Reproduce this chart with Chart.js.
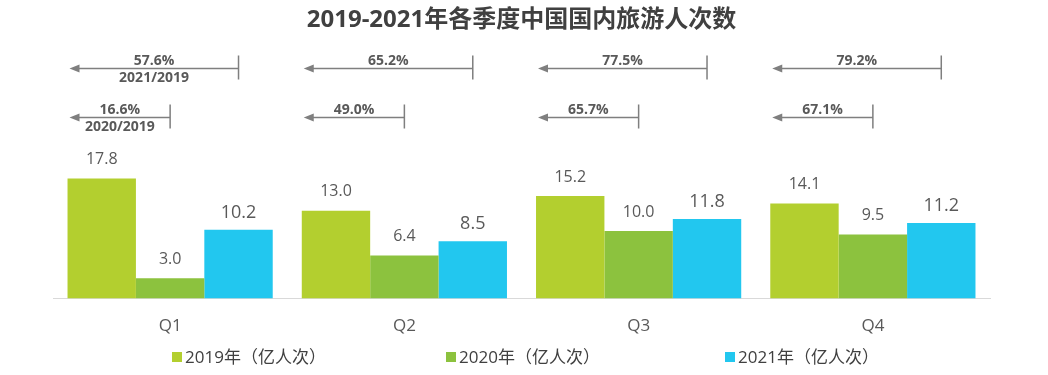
<!DOCTYPE html>
<html>
<head>
<meta charset="utf-8">
<script src="https://cdn.jsdelivr.net/npm/chart.js@4/dist/chart.umd.min.js"></script>
<style>
  html, body { margin: 0; padding: 0; background: #fff; }
  #wrap { position: relative; width: 1048px; height: 375px; }
  #legend { position: absolute; top: 343px; left: 0; width: 1048px; height: 24px;
    font-family: "Open Sans", "Noto Sans CJK SC", sans-serif; font-size: 17px; color: #404040; }
  #legend span { position: absolute; top: 0; white-space: nowrap; }
  #legend i { display: inline-block; width: 10px; height: 10px; margin-right: 3px; vertical-align: 1px; }
</style>
</head>
<body>
<div id="wrap">
  <canvas id="tourChart" width="1048" height="375"></canvas>
  <div id="legend"></div>
</div>
<script>
const quarters = ['Q1', 'Q2', 'Q3', 'Q4'];
const seriesNames = ['2019年（亿人次）', '2020年（亿人次）', '2021年（亿人次）'];
const trips2019 = [17.8, 13.0, 15.2, 14.1];
const trips2020 = [3.0, 6.4, 10.0, 9.5];
const trips2021 = [10.2, 8.5, 11.8, 11.2];
const ratio2021 = ['57.6%', '65.2%', '77.5%', '79.2%'];
const ratio2020 = ['16.6%', '49.0%', '65.7%', '67.1%'];
const colors = ['#b3cf2f', '#8cc23e', '#22c7ef'];

const FONT = '"Open Sans", "Noto Sans CJK SC", sans-serif';

// value labels above bars
const valueLabels = {
  id: 'valueLabels',
  afterDatasetsDraw(chart) {
    const ctx = chart.ctx;
    ctx.save();
    ctx.fillStyle = '#595959';
    ctx.textAlign = 'center';
    ctx.textBaseline = 'bottom';
    chart.data.datasets.forEach((ds, i) => {
      const big = i === 2;
      ctx.font = (big ? '18px ' : '16px ') + FONT;
      chart.getDatasetMeta(i).data.forEach((bar, j) => {
        ctx.fillText(ds.data[j].toFixed(1), bar.x, bar.y - (big ? 8 : 11));
      });
    });
    ctx.restore();
  }
};

// ratio arrows: from centre of later bar back to left edge of 2019 bar
const ratioArrows = {
  id: 'ratioArrows',
  afterDatasetsDraw(chart) {
    const ctx = chart.ctx;
    const y = chart.scales.y;
    const base = chart.getDatasetMeta(0).data;
    const rows = [
      { meta: chart.getDatasetMeta(2).data, labels: ratio2021, yv: 34.1, note: '2021/2019' },
      { meta: chart.getDatasetMeta(1).data, labels: ratio2020, yv: 26.9, note: '2020/2019' }
    ];
    ctx.save();
    ctx.strokeStyle = '#7f7f7f';
    ctx.fillStyle = '#7f7f7f';
    ctx.lineWidth = 1.5;
    rows.forEach(row => {
      const py = Math.round(y.getPixelForValue(row.yv)) + 0.5;
      row.meta.forEach((bar, j) => {
        const b0 = base[j];
        const x0 = b0.x - b0.width / 2 + 2;
        const x1 = bar.x;
        ctx.beginPath();
        ctx.moveTo(x0 + 8, py);
        ctx.lineTo(x1, py);
        ctx.moveTo(x1, py - 13);
        ctx.lineTo(x1, py + 11);
        ctx.stroke();
        ctx.beginPath();
        ctx.moveTo(x0, py);
        ctx.lineTo(x0 + 10, py - 4);
        ctx.lineTo(x0 + 10, py + 4);
        ctx.closePath();
        ctx.fill();
        const cx = (x0 + x1) / 2;
        ctx.fillStyle = '#595959';
        ctx.font = 'bold 14px ' + FONT;
        ctx.textAlign = 'center';
        ctx.textBaseline = 'bottom';
        ctx.fillText(row.labels[j], cx, py);
        if (j === 0) {
          ctx.textBaseline = 'top';
          ctx.fillText(row.note, cx, py + 3);
        }
        ctx.fillStyle = '#7f7f7f';
      });
    });
    ctx.restore();
  }
};

new Chart(document.getElementById('tourChart'), {
  type: 'bar',
  data: {
    labels: quarters,
    datasets: [
      { label: seriesNames[0], data: trips2019, backgroundColor: colors[0] },
      { label: seriesNames[1], data: trips2020, backgroundColor: colors[1] },
      { label: seriesNames[2], data: trips2021, backgroundColor: colors[2] }
    ]
  },
  options: {
    responsive: false,
    animation: false,
    datasets: { bar: { categoryPercentage: 0.876, barPercentage: 1.0 } },
    layout: { padding: { left: 53, right: 58, bottom: 22, top: 0 } },
    plugins: {
      legend: { display: false },
      tooltip: { enabled: false },
      title: {
        display: true,
        text: '2019-2021年各季度中国国内旅游人次数',
        color: '#404040',
        font: { family: FONT, size: 24, weight: 'bold' },
        padding: { top: 6, bottom: 14 }
      }
    },
    scales: {
      x: {
        grid: { display: false, drawTicks: false },
        border: { color: '#d9d9d9', width: 1 },
        ticks: { color: '#595959', font: { family: FONT, size: 17 }, padding: 17 }
      },
      y: { display: false, min: 0, max: 37 }
    }
  },
  plugins: [valueLabels, ratioArrows]
});

const legend = document.getElementById('legend');
const legendX = [172, 446, 725];
seriesNames.forEach((name, i) => {
  const s = document.createElement('span');
  s.style.left = legendX[i] + 'px';
  s.innerHTML = '<i style="background:' + colors[i] + '"></i>' + name;
  legend.appendChild(s);
});
</script>
</body>
</html>
